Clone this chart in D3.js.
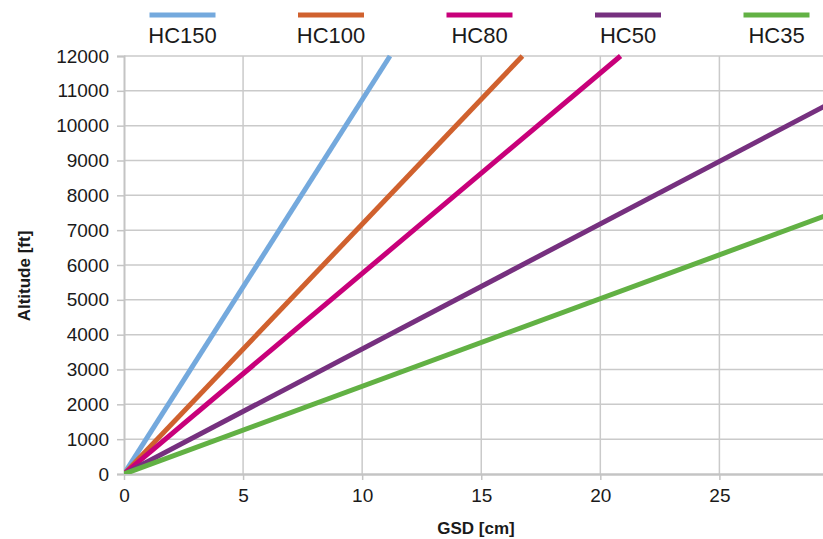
<!DOCTYPE html>
<html>
<head>
<meta charset="utf-8">
<style>
  body { margin: 0; background: #fff; }
  svg { display: block; font-family: "Liberation Sans", Arial, sans-serif; }
</style>
</head>
<body>
<svg width="823" height="539"></svg>
<script src="https://d3js.org/d3.v7.min.js"></script>
<script>

// series: GSD [cm] -> altitude [ft], straight lines from origin
var seriesNames = ["HC150", "HC100", "HC80", "HC50", "HC35"];
var seriesColors = ["#74a9dd", "#d0612e", "#c8007a", "#76307f", "#62b144"];
var hc150 = [[0, 0], [11.17, 12000]];
var hc100 = [[0, 0], [16.73, 12000]];
var hc80  = [[0, 0], [20.85, 12000]];
var hc50  = [[0, 0], [30, 10770]];
var hc35  = [[0, 0], [30, 7550]];
var seriesData = [hc150, hc100, hc80, hc50, hc35];

var xTicks = [0, 5, 10, 15, 20, 25];
var yTicks = d3.range(0, 12001, 1000);

var svg = d3.select("svg"),
    width = +svg.attr("width"),
    height = +svg.attr("height");

var margin = {top: 56, right: 0, bottom: 65, left: 124};

var x = d3.scaleLinear().domain([0, 29.35]).range([margin.left, width]);
var y = d3.scaleLinear().domain([0, 12000]).range([height - margin.bottom, margin.top]);

svg.append("defs").append("clipPath").attr("id", "plot")
  .append("rect")
    .attr("x", margin.left).attr("y", margin.top - 4)
    .attr("width", width - margin.left).attr("height", y(0) - margin.top + 4);

// gridlines
svg.append("g")
  .selectAll("line").data(yTicks.slice(1)).enter().append("line")
    .attr("x1", margin.left).attr("x2", width)
    .attr("y1", function(d) { return y(d); }).attr("y2", function(d) { return y(d); })
    .attr("stroke", "#cacaca").attr("stroke-width", 1.5);
svg.append("g")
  .selectAll("line").data(xTicks.slice(1)).enter().append("line")
    .attr("y1", margin.top).attr("y2", y(0))
    .attr("x1", function(d) { return x(d); }).attr("x2", function(d) { return x(d); })
    .attr("stroke", "#cacaca").attr("stroke-width", 1.5);

// y axis
var yAxis = svg.append("g")
    .attr("transform", "translate(" + margin.left + ",0)")
    .call(d3.axisLeft(y).tickValues(yTicks).tickFormat(d3.format("d")).tickSize(7).tickPadding(8));
yAxis.select(".domain").attr("stroke", "#c4c4c4").attr("stroke-width", 2);
yAxis.selectAll(".tick line").attr("stroke", "#c4c4c4").attr("stroke-width", 1.5);
yAxis.selectAll("text").attr("font-size", 19).attr("fill", "#1a1a1a")
    .attr("font-family", "'Liberation Sans', Arial, sans-serif");

// x axis
var xAxis = svg.append("g")
    .attr("transform", "translate(0," + y(0) + ")")
    .call(d3.axisBottom(x).tickValues(xTicks).tickSize(6).tickPadding(9).tickSizeOuter(0));
xAxis.select(".domain").attr("stroke", "#c4c4c4").attr("stroke-width", 2.5);
xAxis.selectAll(".tick line").attr("stroke", "#c4c4c4").attr("stroke-width", 1.5);
xAxis.selectAll("text").attr("font-size", 19).attr("fill", "#1a1a1a")
    .attr("font-family", "'Liberation Sans', Arial, sans-serif");

// lines
var line = d3.line()
    .x(function(d) { return x(d[0]); })
    .y(function(d) { return y(d[1]); });

svg.append("g").attr("clip-path", "url(#plot)")
  .selectAll("path").data(seriesData).enter().append("path")
    .attr("d", line)
    .attr("fill", "none")
    .attr("stroke", function(d, i) { return seriesColors[i]; })
    .attr("stroke-width", 5);

// legend
var legendX = d3.scalePoint().domain(seriesNames).range([182.5, 776.5]);
var legend = svg.append("g").selectAll("g").data(seriesNames).enter().append("g")
    .attr("transform", function(d) { return "translate(" + legendX(d) + ",0)"; });
legend.append("line")
    .attr("x1", -33).attr("x2", 33).attr("y1", 15).attr("y2", 15)
    .attr("stroke", function(d, i) { return seriesColors[i]; })
    .attr("stroke-width", 5);
legend.append("text")
    .attr("y", 43).attr("text-anchor", "middle")
    .attr("font-size", 22).attr("fill", "#1a1a1a")
    .text(function(d) { return d; });

// axis titles
svg.append("text")
    .attr("x", 476).attr("y", 534)
    .attr("text-anchor", "middle").attr("font-size", 17).attr("font-weight", "bold")
    .attr("fill", "#1a1a1a")
    .text("GSD [cm]");
svg.append("text")
    .attr("transform", "translate(30,276) rotate(-90)")
    .attr("text-anchor", "middle").attr("font-size", 17).attr("font-weight", "bold")
    .attr("fill", "#1a1a1a")
    .text("Altitude [ft]");

</script>
</body>
</html>
